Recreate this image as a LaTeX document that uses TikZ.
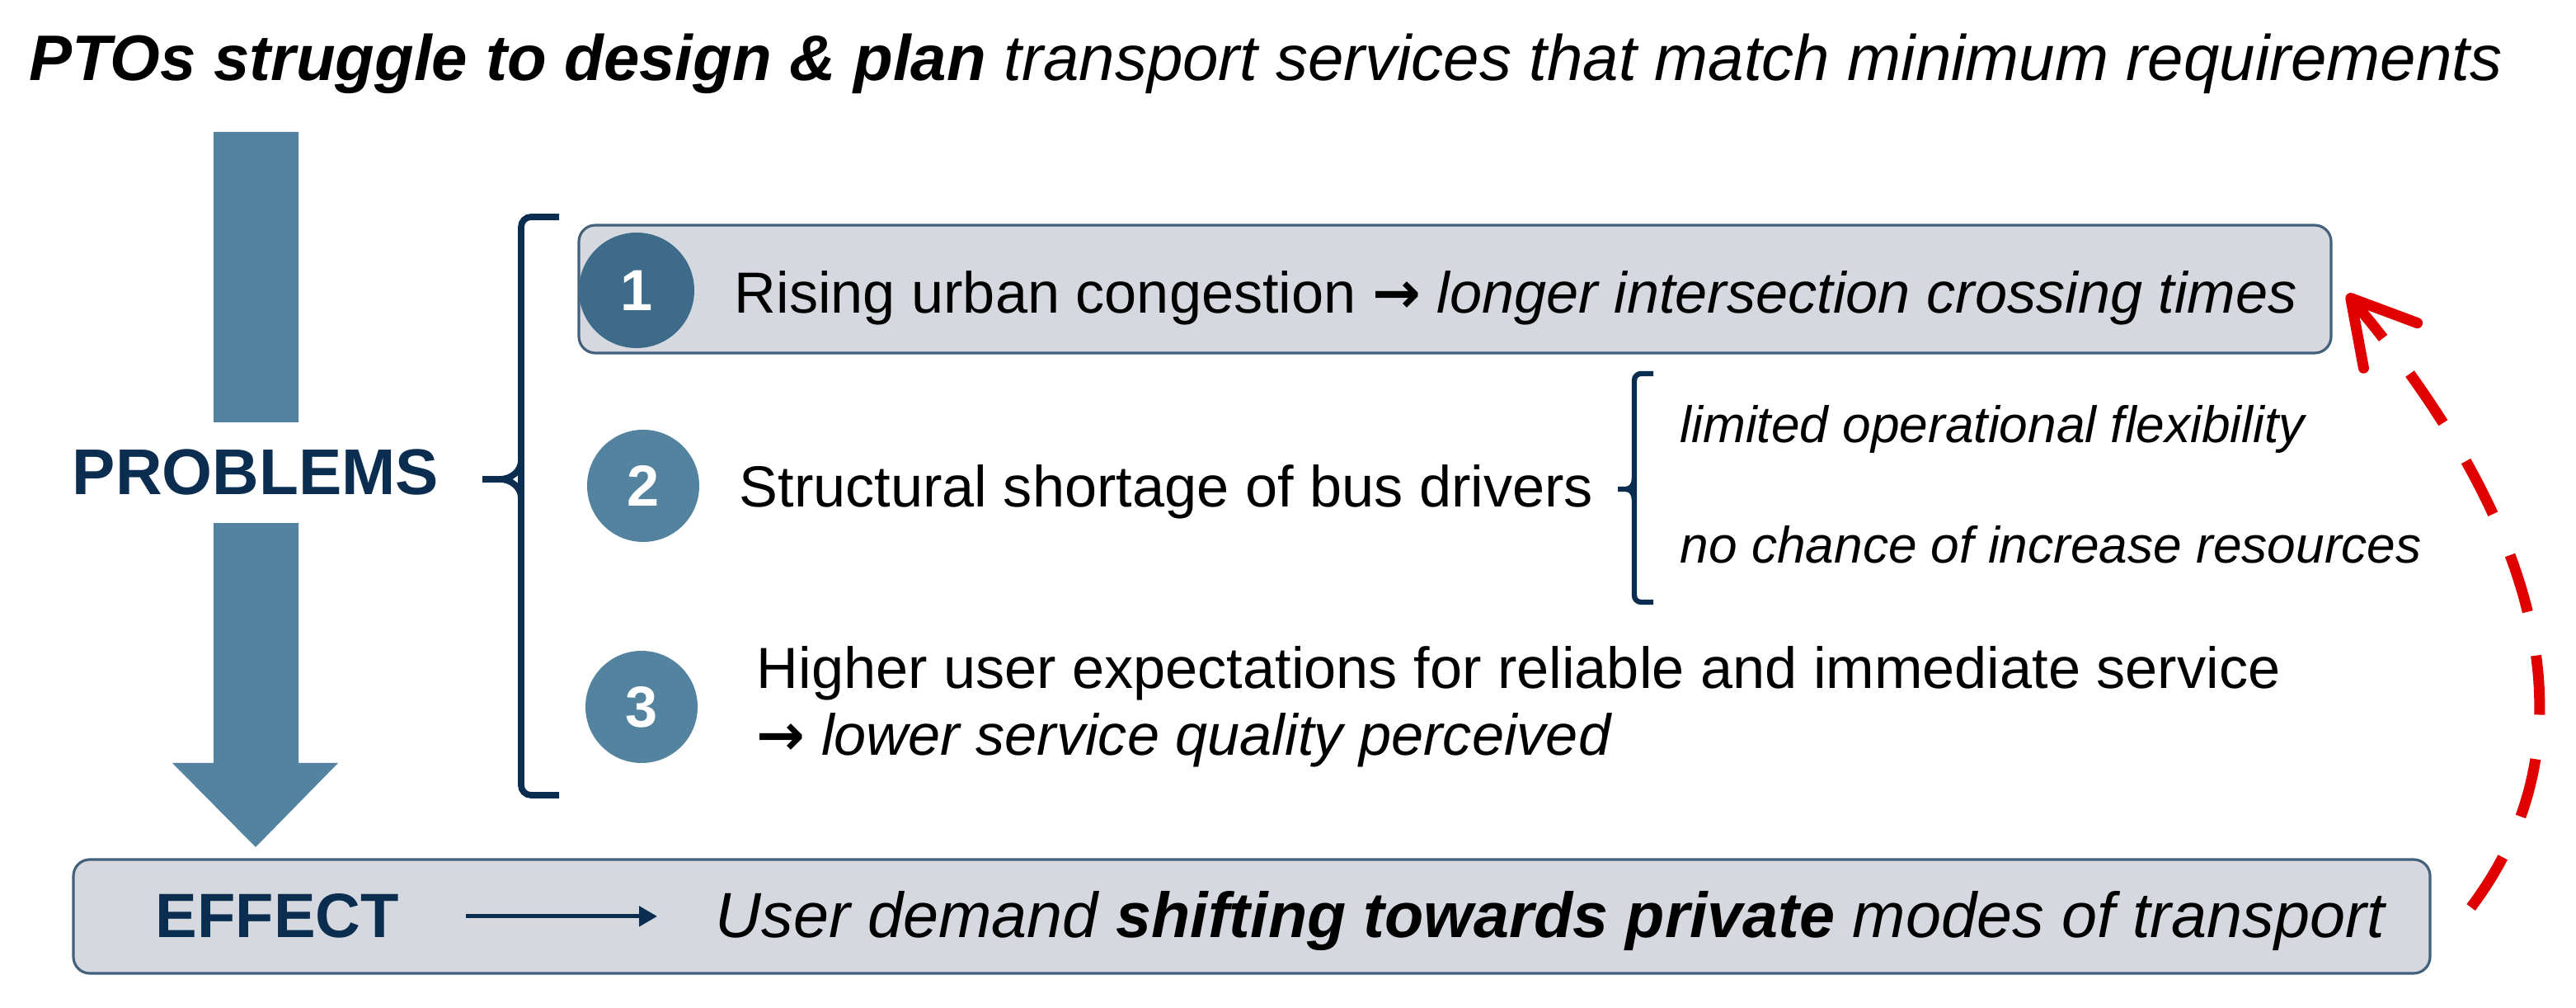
\documentclass[tikz,border=0pt]{standalone}
\usepackage{fontspec}
\setmainfont{Liberation Sans}
\newfontfamily\arrowfont{DejaVu Sans}
\usetikzlibrary{arrows.meta}
\definecolor{navy}{HTML}{0B2E50}
\definecolor{steel}{HTML}{54839F}
\definecolor{steeldark}{HTML}{3E6B8A}
\definecolor{boxgray}{HTML}{D5D9DF}
\definecolor{boxedge}{HTML}{44617C}
\definecolor{alertred}{HTML}{E00000}
\newcommand{\thenarrow}{{\arrowfont\bfseries →}}
\tikzset{
  probbox/.style={draw=boxedge, line width=0.9pt, fill=boxgray, rounded corners=0.2cm},
  numdot/.style={circle, fill=steel, minimum size=1.36cm, inner sep=0pt, text=white, font=\fontsize{20}{24}\selectfont\bfseries},
  bodytxt/.style={anchor=base west, inner sep=0pt, font=\fontsize{20}{23}\selectfont},
  subtxt/.style={anchor=base west, inner sep=0pt, font=\fontsize{17.7}{21}\selectfont\itshape},
  brk/.style={draw=navy, line width=2.2pt, rounded corners=0.12cm},
}
\begin{document}
\begin{tikzpicture}
  \useasboundingbox (0,0) rectangle (31.24,12.22);

  %%%%% TITLE %%%%%
  \node[anchor=base, inner sep=0pt, font=\fontsize{22.2}{26}\selectfont\itshape] (title) at (15.35,11.24)
    {\textbf{PTOs struggle to design \& plan} transport services that match minimum requirements};

  %%%%% BIG ARROW %%%%%
  \fill[steel] (2.59,10.62) -- (3.62,10.62) -- (3.62,2.97) -- (4.10,2.97) -- (3.10,1.95)
    -- (2.09,2.97) -- (2.59,2.97) -- cycle;
  \node[fill=white, minimum height=1.22cm, inner xsep=2pt, text=navy,
    font=\fontsize{22.3}{26}\selectfont\bfseries] (problems) at (3.10,6.49) {PROBLEMS};

  %%%%% BRACKETS %%%%%
  \draw[brk] (6.78,9.59) -- (6.32,9.59) -- (6.32,2.58) -- (6.78,2.58);
  \draw[navy, line width=2.2pt] (6.32,6.64) to[out=-90,in=0] (6.06,6.41) -- (5.85,6.41);
  \draw[navy, line width=2.2pt] (6.32,6.18) to[out=90,in=0] (6.06,6.41);

  \draw[brk, line width=1.8pt, rounded corners=0.08cm] (20.05,7.69) -- (19.82,7.69) -- (19.82,4.92) -- (20.05,4.92);
  \draw[navy, line width=1.8pt] (19.82,6.42) to[out=-90,in=0] (19.72,6.29) -- (19.62,6.29);
  \draw[navy, line width=1.8pt] (19.82,6.16) to[out=90,in=0] (19.72,6.29);

  %%%%% PROBLEM 1 %%%%%
  \node[probbox, minimum width=21.25cm, minimum height=1.55cm] (prob1) at (17.645,8.715) {};
  \node[numdot, fill=steeldark, minimum size=1.40cm] (num1) at (7.72,8.70) {1};
  \node[bodytxt] (txt1) at (8.90,8.42) {Rising urban congestion \thenarrow\ \textit{longer intersection crossing times}};

  %%%%% PROBLEM 2 %%%%%
  \node[numdot] (num2) at (7.80,6.33) {2};
  \node[bodytxt] (txt2) at (8.96,6.07) {Structural shortage of bus drivers};
  \node[subtxt] (sub1) at (20.37,6.85) {limited operational flexibility};
  \node[subtxt] (sub2) at (20.37,5.39) {no chance of increase resources};

  %%%%% PROBLEM 3 %%%%%
  \node[numdot] (num3) at (7.78,3.65) {3};
  \node[bodytxt, anchor=west, align=left] (txt3) at (9.17,3.65)
    {Higher user expectations for reliable and immediate service\\\thenarrow\ \textit{lower service quality perceived}};

  %%%%% EFFECT %%%%%
  \node[probbox, minimum width=28.58cm, minimum height=1.38cm] (effect) at (15.18,1.11) {};
  \node[anchor=base west, inner sep=0pt, text=navy, font=\fontsize{21.6}{26}\selectfont\bfseries] (effectlbl) at (1.88,0.85) {EFFECT};
  \node[anchor=base west, inner sep=0pt, font=\fontsize{22}{26}\selectfont\itshape] (effecttxt) at (8.67,0.85)
    {User demand \textbf{shifting towards private} modes of transport};
  \draw[navy, line width=1.4pt, -{Triangle[length=2.2mm,width=2.4mm]}]
    ([xshift=8mm]effectlbl.east) -- ([xshift=-7mm]effecttxt.west |- effectlbl.east);

  %%%%% FEEDBACK %%%%%
  \draw[alertred, line width=3.7pt, dash pattern=on 7.2mm off 5.4mm,
    -{Straight Barb[length=7.5mm,width=8.5mm,round]}]
    ([xshift=4.8mm,yshift=1.1mm]effect.east) to[out=53,in=-50] ([xshift=1.8mm,yshift=-0.6mm]prob1.east);
\end{tikzpicture}
\end{document}
